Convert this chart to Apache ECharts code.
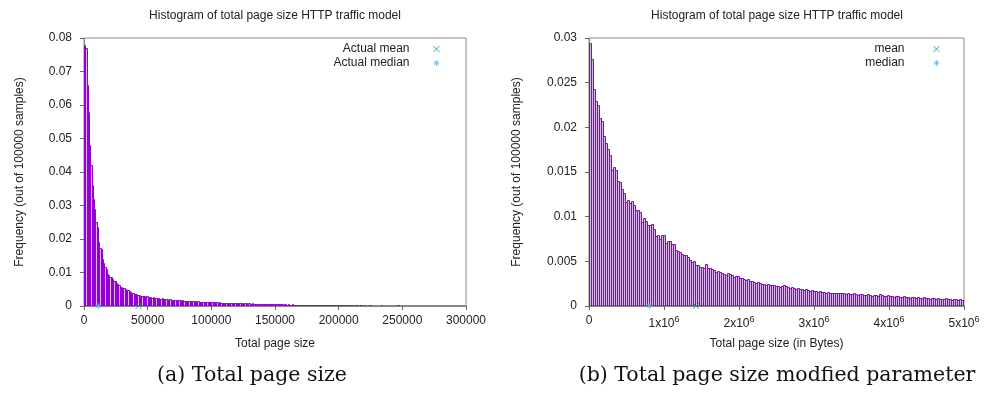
<!DOCTYPE html>
<html><head><meta charset="utf-8">
<script src="https://cdn.jsdelivr.net/npm/echarts@6/dist/echarts.min.js"></script>
<style>html,body{margin:0;padding:0;background:#fff}#c{width:987px;height:393px}</style>
</head><body><div id="c"></div>
<script>
// ---------- data ----------
const chartTitle = 'Histogram of total page size HTTP traffic model';
const yAxisName = 'Frequency (out of 100000 samples)';

const leftXName = 'Total page size';
const leftBinWidth = 1000;
const leftXMax = 300000, leftXStep = 50000;
const leftYMax = 0.08, leftYStep = 0.01;
const leftMean = 42900, leftMedian = 11300;
const leftLegend = ['Actual mean', 'Actual median'];
const leftFreq = [
0.078,0.077,0.066,0.058,0.048,0.042,0.036,0.032,0.029,0.025,
0.0235,0.019,0.0172,0.017,0.0139,0.0127,0.0117,0.011,0.0095,0.0094,
0.0088,0.0087,0.0082,0.0076,0.0074,0.0068,0.0066,0.0062,0.0058,0.0056,
0.0055,0.0054,0.0051,0.0048,0.0047,0.0044,0.0042,0.0040,0.0038,0.0037,
0.0036,0.0036,0.0034,0.0033,0.0031,0.0030,0.0030,0.0029,0.0028,0.0030,
0.0027,0.0027,0.0026,0.0025,0.0026,0.0024,0.0024,0.0023,0.0024,0.0022,
0.0022,0.0023,0.0021,0.0021,0.0020,0.0021,0.0019,0.0020,0.0019,0.0018,
0.0019,0.0018,0.0017,0.0018,0.0017,0.0017,0.0016,0.0017,0.0016,0.0015,
0.0016,0.0015,0.0015,0.0016,0.0014,0.0015,0.0014,0.0014,0.0013,0.0014,
0.0013,0.0013,0.0012,0.0013,0.0012,0.0012,0.0013,0.0011,0.0012,0.0011,
0.0011,0.0012,0.0011,0.0010,0.0011,0.0010,0.0011,0.0010,0.0010,0.0009,
0.0010,0.0009,0.0010,0.0009,0.0009,0.0010,0.0008,0.0009,0.0009,0.0008,
0.0009,0.0008,0.0008,0.0009,0.0008,0.0007,0.0008,0.0008,0.0007,0.0008,
0.0007,0.0007,0.0008,0.0007,0.0007,0.0006,0.0007,0.0007,0.0006,0.0007,
0.0006,0.0006,0.0007,0.0006,0.0006,0.0005,0.0006,0.0006,0.0005,0.0006,
0.0005,0.0005,0.0006,0.0005,0.0005,0.0005,0.0004,0.0005,0.0005,0.0004,
0.0005,0.0004,0.0004,0.0005,0.0004,0.0004,0.0004,0.0003,0.0004,0.0004,
0.0004,0.0003,0.0004,0.0003,0.0004,0.0003,0.0003,0.0004,0.0003,0.0003,
0.0003,0.0003,0.0003,0.0002,0.0003,0.0003,0.0002,0.0003,0.0002,0.0003,
0.0002,0.0002,0.0003,0.0002,0.0002,0.0002,0.0002,0.0002,0.0002,0.0002,
0.0002,0.0002,0.0002,0.0002,0.0001,0.0002,0.0002,0.0002,0.0001,0.0002,
0.0002,0.0001,0.0002,0.0001,0.0002,0.0001,0.0001,0.0002,0.0001,0.0001,
0.0002,0.0001,0.0001,0.0001,0.0002,0.0001,0.0001,0.0001,0.0001,0.0001,
0.0001,0.0001,0.0001,0.0002,0.0001,0.0001,0.0001,0.0001,0.0001,0.0001,
0.0001,0.0001,0.0001,0.0001,0.0001,0.0001,0.0002,0.0001,0.0001,0.0001,
0.0001,0.0001,0.0001,0.0001,0.0001,0.0001,0.0001,0.0001,0.0001,0.0001,
0.0001,0.0001,0.0001,0.0001,0.0001,0.0001,0.0001,0.0001,0.0001,0.0001,
0.0001,0.0001,0.0001,0.0001,0.0001,0.0001,0.0001,0.0001,0.0001,0.0001,
0.0001,0.00005,0.0001,0.0001,0.00005,0.0001,0.0001,0.0001,0.00005,0.0001,
0.0001,0.0001,0.00005,0.0001,0.0001,0.00005,0.0001,0.0001,0.00005,0.0001
];

const rightXName = 'Total page size (in Bytes)';
const rightBinWidth = 26667;
const rightXMax = 5000000, rightXStep = 1000000;
const rightYMax = 0.03, rightYStep = 0.005;
const rightMean = 1427000, rightMedian = 804000;
const rightLegend = ['mean', 'median'];
const rightFreq = [
0.0294,0.0276,0.0243,0.0229,0.0225,0.0211,0.0207,0.0190,0.0182,0.0176,
0.0169,0.0152,0.0156,0.0152,0.0140,0.0139,0.0131,0.0126,0.0116,0.0119,
0.0115,0.0117,0.0113,0.0107,0.0108,0.0105,0.0094,0.0098,0.0095,0.0091,
0.0091,0.0092,0.0086,0.0078,0.0079,0.0075,0.0080,0.0080,0.0071,0.0073,
0.0073,0.0069,0.0069,0.0063,0.0062,0.0061,0.0058,0.0057,0.0057,0.0055,
0.0051,0.0049,0.0050,0.0046,0.0046,0.0044,0.0044,0.0043,0.0047,0.0042,
0.0043,0.0041,0.0040,0.0038,0.0039,0.0038,0.0037,0.0036,0.0035,0.0037,
0.0036,0.0035,0.0032,0.0034,0.0034,0.0031,0.0031,0.0030,0.0029,0.0030,
0.0028,0.0028,0.0027,0.0026,0.0027,0.0026,0.0025,0.0025,0.0024,0.0025,
0.0023,0.0023,0.0024,0.0022,0.0022,0.0021,0.0022,0.0024,0.0022,0.0021,
0.0020,0.0021,0.0020,0.0019,0.0020,0.0019,0.0019,0.0018,0.0019,0.0018,
0.0017,0.0018,0.0017,0.0017,0.0016,0.0017,0.0016,0.0016,0.0015,0.0016,
0.0015,0.0015,0.0014,0.0015,0.0014,0.0014,0.0015,0.0014,0.0013,0.0014,
0.0013,0.0013,0.0014,0.0013,0.0012,0.0013,0.0013,0.0012,0.0012,0.0013,
0.0012,0.0011,0.0012,0.0012,0.0011,0.0013,0.0012,0.0011,0.0011,0.0012,
0.0011,0.0011,0.0010,0.0011,0.0011,0.0010,0.0010,0.0011,0.0010,0.0010,
0.0009,0.0010,0.0010,0.0009,0.0010,0.0009,0.0009,0.0010,0.0009,0.0009,
0.0008,0.0009,0.0009,0.0008,0.0009,0.0008,0.0008,0.0008,0.0009,0.0008,
0.0008,0.0007,0.0008,0.0008,0.0007,0.0008,0.0007,0.0007
];

const captions = ['(a) Total page size', '(b) Total page size modfied parameter'];

// ---------- chart ----------
const SANS = 'Liberation Sans, Arial, sans-serif';
const PURPLE = '#9400d3', GREEN = '#009e73', BLUE = '#56b4e9';
const TXT = '#222';
const CROSS = 'path://M0,0L10,10M10,0L0,10';
const STAR = 'path://M5,0L5,10M0,5L10,5M1.6,1.6L8.4,8.4M8.4,1.6L1.6,8.4';

function bins(freq, w) { return freq.map((v, i) => [i * w, (i + 1) * w, v]); }

function renderBin(params, api) {
  const p0 = api.coord([api.value(0), api.value(2)]);
  const p1 = api.coord([api.value(1), 0]);
  const x0 = Math.round(p0[0]) + 0.5, x1 = Math.round(p1[0]) + 0.5;
  const yTop = Math.round(p0[1]) + 0.5, yBot = p1[1];
  return {
    type: 'rect',
    shape: { x: x0, y: yTop, width: Math.max(x1 - x0, 1), height: yBot - yTop },
    style: { fill: 'rgba(148,0,211,0.3)', stroke: PURPLE, lineWidth: 1 }
  };
}

const grids = [
  { left: 84, top: 38, width: 382, height: 268, show: true, borderColor: '#888', borderWidth: 1 },
  { left: 589, top: 38, width: 375, height: 268, show: true, borderColor: '#888', borderWidth: 1 }
];

const axisLineStyle = { lineStyle: { color: '#888', width: 1 } };
const tickStyle = { show: true, inside: false, length: 4, lineStyle: { color: '#666' } };

function xAxisCfg(gi, max, step, name, fmt) {
  return {
    type: 'value', gridIndex: gi, min: 0, max: max, interval: step,
    splitLine: { show: false }, axisLine: axisLineStyle, axisTick: tickStyle,
    axisLabel: { margin: 9, fontSize: 12, color: TXT, fontFamily: SANS, formatter: fmt,
      rich: { b: { fontSize: 12, color: TXT, fontFamily: SANS },
              s: { fontSize: 9, color: TXT, fontFamily: SANS, padding: [0, 0, 8, 0] } } },
    name: name, nameLocation: 'middle', nameGap: 32,
    nameTextStyle: { fontSize: 12, color: TXT, fontFamily: SANS }
  };
}
function yAxisCfg(gi, max, step, gap) {
  return {
    type: 'value', gridIndex: gi, min: 0, max: max, interval: step,
    splitLine: { show: false }, axisLine: { show: true, lineStyle: { color: '#888', width: 1 } }, axisTick: tickStyle,
    axisLabel: { margin: 12, fontSize: 12, color: TXT, fontFamily: SANS, formatter: v => String(+v.toFixed(4)) },
    name: yAxisName, nameLocation: 'middle', nameRotate: 90, nameGap: gap,
    nameTextStyle: { fontSize: 12, color: TXT, fontFamily: SANS }
  };
}

function marker(name, x, sym, color, xi) {
  return {
    type: 'scatter', name: name, xAxisIndex: xi, yAxisIndex: xi,
    data: [[x, 0]], symbol: sym, symbolSize: 6, z: 10, clip: false,
    itemStyle: { color: 'rgba(0,0,0,0)', borderColor: color, borderWidth: 1 }
  };
}

const legendCommon = {
  orient: 'vertical', align: 'right', top: 38, itemHeight: 6, itemGap: 2, selectedMode: false,
  itemStyle: { borderWidth: 1 },
  textStyle: { fontSize: 12, color: TXT, fontFamily: SANS }
};

const option = {
  animation: false,
  backgroundColor: '#fff',
  grid: grids,
  xAxis: [
    xAxisCfg(0, leftXMax, leftXStep, leftXName, v => String(v)),
    xAxisCfg(1, rightXMax, rightXStep, rightXName, v => v === 0 ? '0' : '{b|' + (v / 1e6) + 'x10}{s|6}')
  ],
  yAxis: [ yAxisCfg(0, leftYMax, leftYStep, 58), yAxisCfg(1, rightYMax, rightYStep, 66) ],
  legend: [
    Object.assign({ data: leftLegend, right: 542, itemWidth: 44 }, legendCommon),
    Object.assign({ data: rightLegend, right: 42, itemWidth: 54 }, legendCommon)
  ],
  graphic: [
    { type: 'text', x: 275, y: 10, style: { text: chartTitle, textAlign: 'center', fontSize: 12, fill: TXT, fontFamily: SANS } },
    { type: 'text', x: 777, y: 10, style: { text: chartTitle, textAlign: 'center', fontSize: 12, fill: TXT, fontFamily: SANS } },
    { type: 'text', x: 252, y: 365, style: { text: captions[0], textAlign: 'center', fontSize: 20.5, fill: '#111', fontFamily: 'DejaVu Serif' } },
    { type: 'text', x: 777, y: 365, style: { text: captions[1], textAlign: 'center', fontSize: 20.5, fill: '#111', fontFamily: 'DejaVu Serif' } }
  ],
  series: [
    { type: 'custom', name: 'hist-a', xAxisIndex: 0, yAxisIndex: 0, clip: true,
      data: bins(leftFreq, leftBinWidth), encode: { x: [0, 1], y: 2 }, renderItem: renderBin },
    { type: 'custom', name: 'hist-b', xAxisIndex: 1, yAxisIndex: 1, clip: true,
      data: bins(rightFreq, rightBinWidth), encode: { x: [0, 1], y: 2 }, renderItem: renderBin },
    marker(leftLegend[0], leftMean, CROSS, GREEN, 0),
    marker(leftLegend[1], leftMedian, STAR, BLUE, 0),
    marker(rightLegend[0], rightMean, CROSS, GREEN, 1),
    marker(rightLegend[1], rightMedian, STAR, BLUE, 1)
  ]
};

const chart = echarts.init(document.getElementById('c'), null, { renderer: 'canvas' });
chart.setOption(option);
</script>
</body></html>
